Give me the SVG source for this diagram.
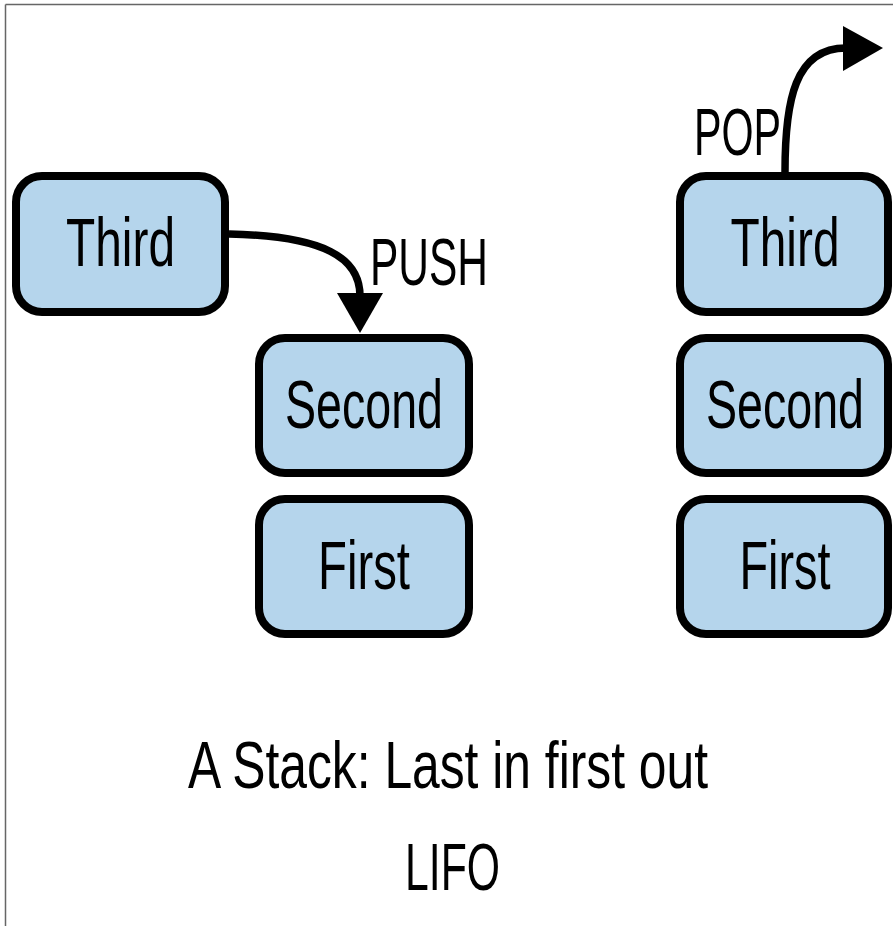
<svg xmlns="http://www.w3.org/2000/svg" width="893" height="926" viewBox="0 0 893 926">
<style>
.box{fill:#b5d5ec;stroke:#000;stroke-width:8}
.t{font-family:"Liberation Sans",Arial,sans-serif;font-size:69px;fill:#000;text-anchor:middle}
.l{font-family:"Liberation Sans",Arial,sans-serif;font-size:67px;fill:#000}
.c{fill:none;stroke:#000;stroke-width:7.5}
</style>
<rect width="893" height="926" fill="#fff"/>
<g id="frame" fill="none" stroke="#666" stroke-width="1.5">
<line x1="5.5" y1="4.5" x2="893" y2="4.5"/>
<line x1="5.5" y1="4.5" x2="5.5" y2="926"/>
</g>
<g id="connectors">
<path class="c" d="M229,234 C325,236 360,258 360,296"/>
<polygon points="337,293 383,293 360,333" fill="#000"/>
<path class="c" d="M785,172 C785,100 795,48 846,48"/>
<polygon points="843,26 843,71 883,48" fill="#000"/>
</g>
<g id="push-third"><rect class="box" x="16" y="176" width="209" height="136" rx="26"/><text class="t" x="120.5" y="266" textLength="109" lengthAdjust="spacingAndGlyphs">Third</text></g>
<g id="push-second"><rect class="box" x="259" y="338" width="210" height="135" rx="26"/><text class="t" x="364" y="428" textLength="158" lengthAdjust="spacingAndGlyphs">Second</text></g>
<g id="push-first"><rect class="box" x="259" y="499" width="210" height="135" rx="26"/><text class="t" x="364" y="589" textLength="92" lengthAdjust="spacingAndGlyphs">First</text></g>
<g id="pop-third"><rect class="box" x="680" y="176" width="208" height="136" rx="26"/><text class="t" x="785" y="266" textLength="109" lengthAdjust="spacingAndGlyphs">Third</text></g>
<g id="pop-second"><rect class="box" x="680" y="338" width="208" height="135" rx="26"/><text class="t" x="785" y="428" textLength="158" lengthAdjust="spacingAndGlyphs">Second</text></g>
<g id="pop-first"><rect class="box" x="680" y="499" width="208" height="135" rx="26"/><text class="t" x="785" y="589" textLength="91" lengthAdjust="spacingAndGlyphs">First</text></g>
<g id="labels">
<text class="l" x="370" y="285" textLength="118" lengthAdjust="spacingAndGlyphs">PUSH</text>
<text class="l" x="694" y="155" textLength="87" lengthAdjust="spacingAndGlyphs">POP</text>
<text class="l" x="188" y="788" textLength="520" lengthAdjust="spacingAndGlyphs">A Stack: Last in first out</text>
<text class="l" x="405" y="890" textLength="95" lengthAdjust="spacingAndGlyphs">LIFO</text>
</g>
</svg>
